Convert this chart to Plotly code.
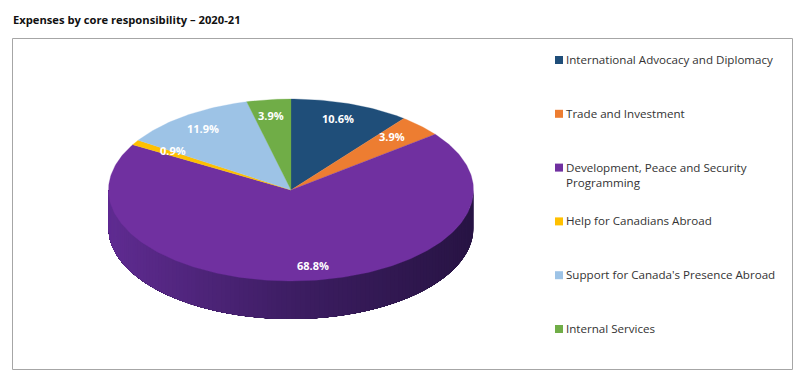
import numpy as np
import plotly.graph_objects as go

TITLE = "Expenses by core responsibility – 2020-21"
categories = [
    "International Advocacy and Diplomacy",
    "Trade and Investment",
    "Development, Peace and Security<br>Programming",
    "Help for Canadians Abroad",
    "Support for Canada's Presence Abroad",
    "Internal Services",
]
values = [10.6, 3.9, 68.8, 0.9, 11.9, 3.9]
colors = ["#1F4E79", "#ED7D31", "#7030A0", "#FFC000", "#9DC3E6", "#70AD47"]

W, H = 807, 379
CX, CY, RX, RY, DEPTH = 291, 190, 182.5, 91, 38
FONT = "Open Sans"
LABEL_NUDGE_X = [0, -1, 12, 5, -4, -2]


def ell(theta):
    """Clockwise angle from 12 o'clock -> x, y on the top face."""
    return CX + RX * np.sin(theta), CY - RY * np.cos(theta)


def mix(a, b, t):
    return tuple(a[i] + (b[i] - a[i]) * t for i in range(3))


fig = go.Figure()

# Side wall of the disc: each strip runs to the far end and overpaints the last, so no seams show
LIGHT, MID, DARK = (96, 44, 146), (62, 30, 100), (40, 20, 68)
edges = np.linspace(np.pi / 2, 3 * np.pi / 2, 121)[:-1]
for a in edges:
    th = np.linspace(a, 3 * np.pi / 2, 60)
    x, y = ell(th)
    px = np.concatenate([x, x[::-1], x[:1]])
    py = np.concatenate([y, y[::-1] + DEPTH, y[:1]])
    t = 1 - (x[0] - (CX - RX)) / (2 * RX)  # 1 at the left, 0 at the right
    c = mix(DARK, MID, t / 0.5) if t < 0.5 else mix(MID, LIGHT, (t - 0.5) / 0.5)
    col = "rgb(%d,%d,%d)" % c
    fig.add_trace(go.Scatter(x=px, y=py, mode="lines", fill="toself", fillcolor=col,
                             line=dict(width=0), hoverinfo="skip", showlegend=False))

# Top face
fractions = np.array(values) / sum(values)
ends = np.cumsum(fractions) * 2 * np.pi
starts = ends - fractions * 2 * np.pi
for name, val, col, s, e in zip(categories, values, colors, starts, ends):
    th = np.linspace(s, e, max(int((e - s) * 60), 6))
    x, y = ell(th)
    fig.add_trace(go.Scatter(x=np.r_[CX, x, CX], y=np.r_[CY, y, CY], mode="lines", fill="toself",
                             fillcolor=col, line=dict(color=col, width=0.3),
                             name=name.replace("<br>", " "), text=f"{val}%", hoverinfo="name+text",
                             showlegend=False))

# Slice labels
annotations = []
mids = (starts + ends) / 2
for val, m, nudge in zip(values, mids, LABEL_NUDGE_X):
    annotations.append(dict(x=CX + RX * 0.79 * np.sin(m) + nudge,
                            y=CY - RY * 0.83 * np.cos(m), text=f"<b>{val}%</b>", showarrow=False,
                            font=dict(family=FONT, size=11, color="white")))

# Key: squares with text beside them
KEY_X, KEY_TOP, KEY_STEP = 559, 60, 53.8
for i, (name, col) in enumerate(zip(categories, colors)):
    y_key = KEY_TOP + i * KEY_STEP
    fig.add_trace(go.Scatter(x=[KEY_X], y=[y_key], mode="markers", hoverinfo="skip", showlegend=False,
                             marker=dict(symbol="square", size=8, color=col)))
    annotations.append(dict(x=KEY_X + 6, y=y_key - 9, text=name, showarrow=False, xanchor="left",
                            yanchor="top", align="left", borderpad=0,
                            font=dict(family=FONT, size=11.6, color="#333333")))

# Title
annotations.append(dict(x=11, y=19, text=f"<b>{TITLE}</b>", showarrow=False, xanchor="left",
                        font=dict(family=FONT, size=11.2, color="#111111")))

fig.update_layout(
    width=W, height=H, margin=dict(l=0, r=0, t=0, b=0), paper_bgcolor="white", plot_bgcolor="white",
    xaxis=dict(range=[0, W], visible=False, fixedrange=True),
    yaxis=dict(range=[H, 0], visible=False, fixedrange=True),
    annotations=annotations, showlegend=False,
    shapes=[dict(type="rect", x0=12.5, y0=38.5, x1=792.5, y1=369.5, line=dict(color="#A6A6A6", width=1), layer="below")],
)
fig.write_html("out.html", config=dict(displayModeBar=False),
               post_script="document.body.style.margin='0';document.documentElement.style.overflow='hidden';")
